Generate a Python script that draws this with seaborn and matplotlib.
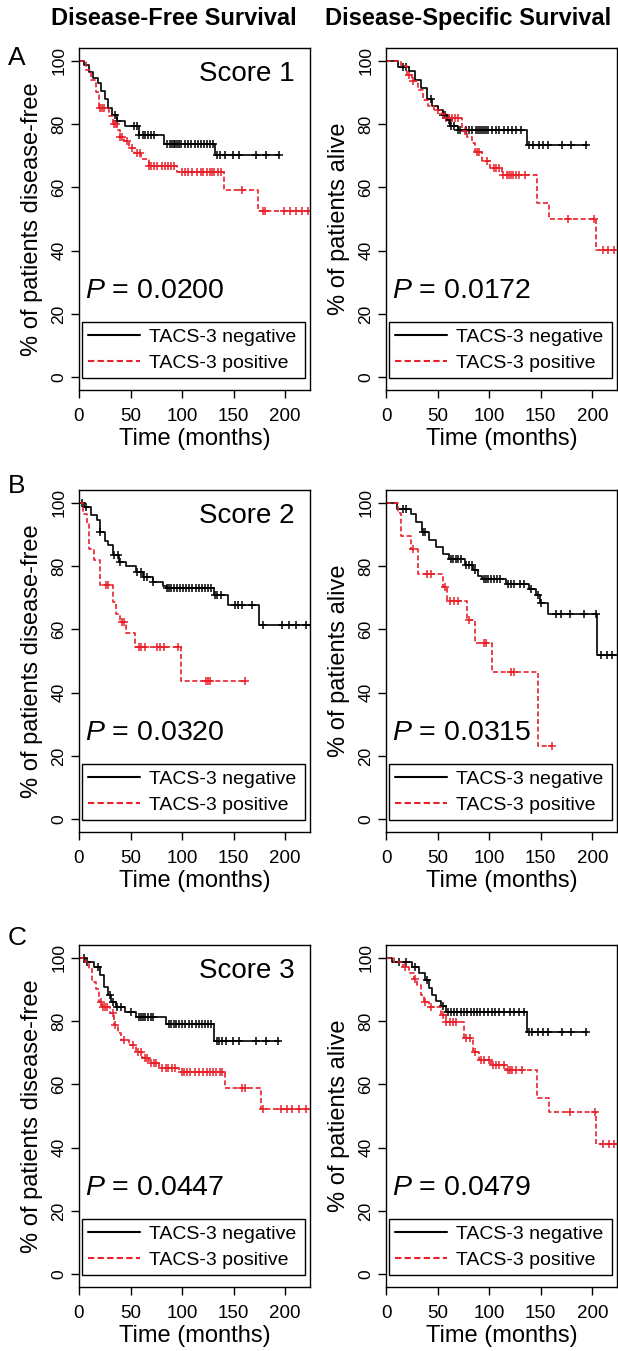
import numpy as np
import matplotlib
matplotlib.use('Agg')
import matplotlib.pyplot as plt
import seaborn as sns
from matplotlib.lines import Line2D

# Kaplan-Meier curves: step times (months), % at each step,
# last follow-up time and censoring times.

# Score 1 - disease-free
s1_dfs_neg_t = [0, 5, 10, 14, 18, 21, 25, 28, 32, 37, 45, 58, 82, 132]
s1_dfs_neg_s = [100, 98.5, 96.5, 94.5, 93, 90.5, 88, 85, 83, 81, 79.5, 76.6, 73.8, 70.1]
s1_dfs_neg_end = 194
s1_dfs_neg_cens = [35, 37, 53, 56, 58, 62, 64, 67, 70, 73, 85, 88, 90, 92, 93, 95, 97, 99, 103,
                   106, 109, 112, 115, 118, 121, 124, 127, 130, 134, 137, 142, 149, 155, 172, 181, 194]
s1_dfs_pos_t = [0, 7, 12, 16, 19, 29, 33, 37, 40, 44, 48, 53, 60, 68, 95, 141, 174]
s1_dfs_pos_s = [100, 97, 94, 90, 85, 82.5, 80, 78, 76, 74.5, 72.5, 71, 69, 66.7, 64.7, 59.2, 52.6]
s1_dfs_pos_end = 224
s1_dfs_pos_cens = [20, 22, 24, 34, 36, 40, 42, 47, 51, 56, 59, 68, 70, 73, 76, 80, 83, 86, 89, 92,
                   100, 103, 106, 110, 114, 118, 120, 124, 127, 129, 131, 135, 138, 158, 178, 180,
                   199, 205, 210, 216, 222]

# Score 1 - disease-specific
s1_dss_neg_t = [0, 12, 22, 28, 34, 40, 45, 50, 55, 59, 62, 70, 137]
s1_dss_neg_s = [100, 98, 96.6, 94, 91.5, 88, 85.6, 84.4, 83, 81.4, 79.5, 78, 73.5]
s1_dss_neg_end = 195
s1_dss_neg_cens = [16, 19, 44, 55, 57, 61, 63, 66, 70, 72, 78, 80, 83, 87, 89, 91, 93, 95, 97, 99,
                   103, 107, 110, 114, 118, 122, 126, 131, 139, 143, 148, 152, 157, 171, 179, 194]
s1_dss_pos_t = [0, 15, 20, 25, 31, 36, 41, 47, 54, 57, 74, 79, 83, 86, 93, 101, 112, 146, 158, 204]
s1_dss_pos_s = [100, 98.2, 95.6, 93.5, 90.8, 87.7, 85.6, 84.5, 83.3, 81.9, 77.7, 76, 74, 71.3,
                68.2, 66.1, 63.8, 55, 50, 40.3]
s1_dss_pos_end = 224
s1_dss_pos_cens = [22, 26, 50, 55, 58, 61, 64, 67, 70, 77, 88, 90, 98, 105, 107, 110, 113, 117,
                   119, 121, 123, 126, 129, 135, 176, 202, 210, 215, 221]

# Score 2 - disease-free
s2_dfs_neg_t = [0, 5, 12, 17, 20, 25, 28, 33, 39, 46, 55, 62, 72, 81, 85, 131, 144, 175]
s2_dfs_neg_s = [100, 98.6, 96, 94.4, 90.7, 88, 86.5, 83.4, 81.3, 80, 78.1, 76.5, 75, 73.6, 73.2,
                71, 67.6, 61.3]
s2_dfs_neg_end = 224
s2_dfs_neg_cens = [3, 7, 20, 34, 38, 40, 56, 60, 63, 66, 72, 85, 87, 89, 92, 95, 98, 101, 104,
                   107, 110, 113, 116, 119, 122, 125, 128, 132, 134, 138, 151, 154, 158, 168,
                   178, 197, 204, 210, 220]
s2_dfs_pos_t = [0, 4, 8, 10, 15, 20, 33, 36, 40, 46, 54, 99]
s2_dfs_pos_s = [100, 96.5, 93.4, 85.5, 81.8, 73.9, 68.6, 65, 62.3, 58.7, 54.5, 43.6]
s2_dfs_pos_end = 161
s2_dfs_pos_cens = [26, 28, 42, 44, 58, 60, 64, 76, 79, 82, 96, 123, 125, 127, 161]

# Score 2 - disease-specific
s2_dss_neg_t = [0, 11, 24, 29, 35, 42, 48, 55, 61, 77, 84, 89, 93, 116, 139, 145, 149, 157, 205]
s2_dss_neg_s = [100, 98.1, 96.5, 93.9, 90.7, 88.1, 86, 83.9, 82.3, 80.2, 78.6, 77, 76, 74.4,
                72.6, 70.8, 68.3, 64.8, 51.8]
s2_dss_neg_end = 224
s2_dss_neg_cens = [16, 19, 36, 38, 63, 65, 68, 70, 73, 78, 80, 83, 86, 95, 97, 99, 102, 105, 108,
                   111, 118, 121, 124, 130, 134, 141, 147, 150, 165, 170, 178, 192, 204, 208,
                   214, 219]
s2_dss_pos_t = [0, 12, 15, 24, 31, 55, 59, 79, 86, 103, 147]
s2_dss_pos_s = [100, 96.6, 89.5, 85.5, 77.6, 73.5, 69, 62.9, 55.6, 46.6, 23.3]
s2_dss_pos_end = 161
s2_dss_pos_cens = [26, 40, 44, 57, 62, 66, 70, 80, 95, 97, 121, 124, 161]

# Score 3 - disease-free
s3_dfs_neg_t = [0, 6, 15, 20, 24, 28, 31, 36, 45, 55, 84, 131]
s3_dfs_neg_s = [100, 98.7, 97.2, 94.5, 90.8, 88.2, 86.1, 84.5, 82.9, 81.4, 79.1, 73.8]
s3_dfs_neg_end = 194
s3_dfs_neg_cens = [5, 8, 18, 30, 33, 37, 41, 50, 58, 60, 62, 64, 67, 70, 72, 87, 89, 92, 94, 97,
                   100, 103, 107, 110, 113, 116, 119, 122, 125, 128, 134, 136, 139, 143, 149,
                   155, 172, 181, 193]
s3_dfs_pos_t = [0, 6, 10, 13, 16, 19, 22, 30, 34, 38, 41, 48, 55, 61, 68, 78, 97, 142, 176]
s3_dfs_pos_s = [100, 98.7, 96.3, 92.2, 90, 86, 84.4, 82.4, 78.7, 76.2, 74, 72.4, 70.3, 68.2,
                66.6, 65.1, 64, 58.7, 52.1]
s3_dfs_pos_end = 224
s3_dfs_pos_cens = [21, 23, 25, 27, 33, 35, 44, 52, 57, 60, 64, 66, 70, 73, 75, 80, 84, 86, 90,
                   93, 100, 102, 105, 108, 112, 116, 120, 124, 127, 130, 133, 137, 139, 158,
                   161, 178, 196, 202, 207, 213, 220]

# Score 3 - disease-specific
s3_dss_neg_t = [0, 6, 25, 32, 38, 42, 45, 48, 53, 58, 137]
s3_dss_neg_s = [100, 98.7, 97.2, 95.2, 93, 90.4, 88.3, 86.2, 84.6, 82.9, 76.6]
s3_dss_neg_end = 195
s3_dss_neg_cens = [13, 19, 28, 40, 55, 60, 63, 66, 69, 73, 76, 79, 82, 85, 88, 91, 95, 99, 103,
                   106, 110, 114, 120, 124, 129, 134, 139, 142, 147, 152, 157, 171, 179, 194]
s3_dss_pos_t = [0, 8, 16, 22, 27, 30, 34, 37, 42, 53, 58, 76, 84, 90, 102, 116, 146, 158, 204]
s3_dss_pos_s = [100, 98.7, 97.2, 95.2, 93.4, 91.4, 88.2, 86.1, 84.3, 81.9, 79.8, 74.5, 70.3,
                67.7, 66.1, 64.4, 55.7, 51.2, 41.1]
s3_dss_pos_end = 224
s3_dss_pos_cens = [18, 28, 38, 44, 55, 58, 62, 65, 68, 78, 81, 86, 92, 95, 100, 104, 107, 110,
                   114, 118, 120, 122, 126, 132, 178, 203, 210, 216, 221]

p_values = [['0.0200', '0.0172'], ['0.0320', '0.0315'], ['0.0447', '0.0479']]
score_labels = ['Score 1', 'Score 2', 'Score 3']
panel_letters = ['A', 'B', 'C']
col_titles = ['Disease-Free Survival', 'Disease-Specific Survival']
y_labels = ['% of patients disease-free', '% of patients alive']
legend_labels = ['TACS-3 negative', 'TACS-3 positive']

curves = [
    [((s1_dfs_neg_t, s1_dfs_neg_s, s1_dfs_neg_end, s1_dfs_neg_cens),
      (s1_dfs_pos_t, s1_dfs_pos_s, s1_dfs_pos_end, s1_dfs_pos_cens)),
     ((s1_dss_neg_t, s1_dss_neg_s, s1_dss_neg_end, s1_dss_neg_cens),
      (s1_dss_pos_t, s1_dss_pos_s, s1_dss_pos_end, s1_dss_pos_cens))],
    [((s2_dfs_neg_t, s2_dfs_neg_s, s2_dfs_neg_end, s2_dfs_neg_cens),
      (s2_dfs_pos_t, s2_dfs_pos_s, s2_dfs_pos_end, s2_dfs_pos_cens)),
     ((s2_dss_neg_t, s2_dss_neg_s, s2_dss_neg_end, s2_dss_neg_cens),
      (s2_dss_pos_t, s2_dss_pos_s, s2_dss_pos_end, s2_dss_pos_cens))],
    [((s3_dfs_neg_t, s3_dfs_neg_s, s3_dfs_neg_end, s3_dfs_neg_cens),
      (s3_dfs_pos_t, s3_dfs_pos_s, s3_dfs_pos_end, s3_dfs_pos_cens)),
     ((s3_dss_neg_t, s3_dss_neg_s, s3_dss_neg_end, s3_dss_neg_cens),
      (s3_dss_pos_t, s3_dss_pos_s, s3_dss_pos_end, s3_dss_pos_cens))],
]

sns.set_theme(style='ticks')
plt.rcParams['font.family'] = ['Liberation Sans', 'DejaVu Sans']
plt.rcParams['mathtext.fontset'] = 'custom'
plt.rcParams['mathtext.rm'] = 'Liberation Sans'
plt.rcParams['mathtext.it'] = 'Liberation Sans:italic'
plt.rcParams['axes.edgecolor'] = 'black'
plt.rcParams['axes.linewidth'] = 1.0
plt.rcParams['text.color'] = 'black'
plt.rcParams['axes.labelcolor'] = 'black'
plt.rcParams['xtick.color'] = 'black'
plt.rcParams['ytick.color'] = 'black'

RED = '#e8202a'
DASH = (0, (3, 1.6))

W, H = 618, 1351
fig = plt.figure(figsize=(W / 100, H / 100), dpi=100)

col_left = [79, 386]
ax_w = 231
row_bottom = [390, 832, 1287]
ax_h = 342


def draw_km(ax, t, s, t_end, cens, color, ls):
    x = list(t) + [t_end]
    y = list(s) + [s[-1]]
    sns.lineplot(x=x, y=y, ax=ax, color=color, linestyle=ls, drawstyle='steps-post',
                 linewidth=1.2, estimator=None, sort=False)
    idx = np.searchsorted(t, cens, side='right') - 1
    cy = np.array(s)[idx]
    sns.scatterplot(x=cens, y=cy, ax=ax, marker='+', color=color, s=40, linewidth=1.1)


for r in range(3):
    for c in range(2):
        ax = fig.add_axes([col_left[c] / W, 1 - row_bottom[r] / H, ax_w / W, ax_h / H])
        neg, pos = curves[r][c]
        draw_km(ax, *neg, color='black', ls='-')
        draw_km(ax, *pos, color=RED, ls=DASH)

        ax.set_xlim(0, 224)
        ax.set_ylim(-4, 104)
        ax.set_xticks([0, 50, 100, 150, 200])
        ax.set_yticks([0, 20, 40, 60, 80, 100])
        ax.tick_params(axis='x', labelsize=13.5, length=6, width=1, pad=7)
        ax.tick_params(axis='y', labelsize=12.5, length=6, width=1, pad=3)
        plt.setp(ax.get_yticklabels(), rotation=90, va='center', ha='right')
        ax.set_xlabel('Time (months)', fontsize=17, labelpad=2)
        ax.set_ylabel(y_labels[c], fontsize=17)
        ax.yaxis.set_label_coords(-0.155, 0.5)

        ax.text(6, 25, r'$P$ = ' + p_values[r][c], fontsize=20.5, ha='left', va='baseline')
        if c == 0:
            ax.text(209, 93.5, score_labels[r], fontsize=20, ha='right', va='baseline')

        handles = [Line2D([], [], color='black', lw=1.5, ls='-'),
                   Line2D([], [], color=RED, lw=1.5, ls=(0, (3, 1.6)))]
        leg = ax.legend(handles, legend_labels, loc='lower left',
                        bbox_to_anchor=(0.013, 0.035, 0.965, 0.185), mode='expand',
                        fontsize=14, frameon=True, fancybox=False, framealpha=1,
                        edgecolor='black', handlelength=2.7, handletextpad=0.45,
                        labelspacing=0.45, borderpad=0.3, borderaxespad=0)
        leg.get_frame().set_linewidth(1.0)

for r, yb in enumerate([65, 493, 945]):
    fig.text(17 / W, 1 - yb / H, panel_letters[r], fontsize=19, ha='center', va='baseline')

fig.text(174 / W, 1 - 25 / H, col_titles[0], fontsize=17, fontweight='bold',
         ha='center', va='baseline')
fig.text(468 / W, 1 - 25 / H, col_titles[1], fontsize=17, fontweight='bold',
         ha='center', va='baseline')

fig.savefig('out.png', dpi=100)
